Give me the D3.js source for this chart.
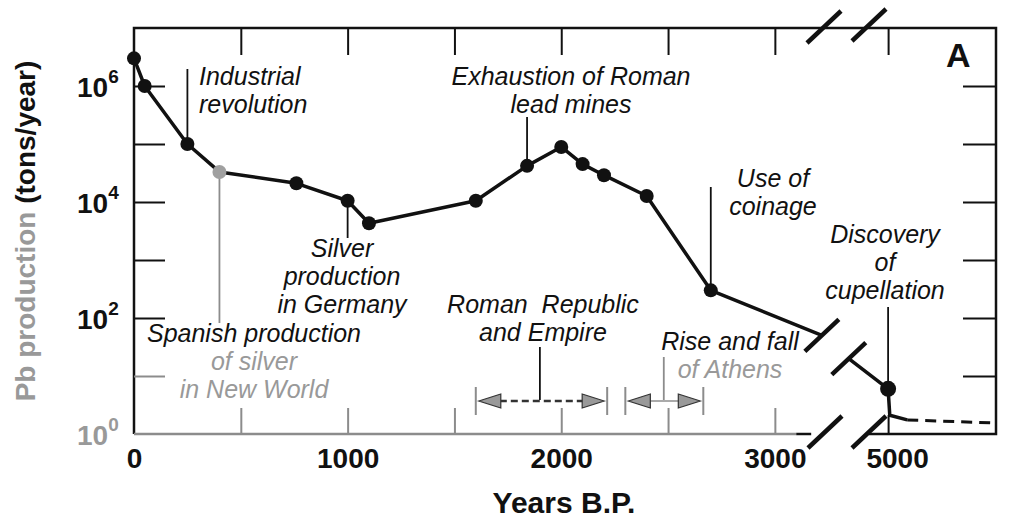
<!DOCTYPE html>
<html>
<head>
<meta charset="utf-8">
<script src="https://cdn.jsdelivr.net/npm/d3@7"></script>
<style>
    html, body { margin: 0; padding: 0; background: #fff; }
    svg { display: block; font-family: "Liberation Sans", Arial, Helvetica, sans-serif; }
</style>
</head>
<body>
<div id="chart"></div>
<script>
// Lead production, years before present vs tons/year
const years = [0, 50, 250, 400, 760, 1000, 1100, 1600, 1840, 2000, 2100, 2200, 2400, 2700];
const production = [3e6, 1e6, 1e5, 3.3e4, 2.1e4, 1.05e4, 4.3e3, 1.05e4, 4.2e4, 8.9e4, 4.5e4, 2.9e4, 1.27e4, 300];
const grayYears = [400];

// where the line runs into the axis break and comes out of it
const breakYears = [3220, 4650];
const breakValues = [50, 20];

// the oldest part, beyond the break
const tailYears = [5000, 5015, 5170];
const tailValues = [6, 2.1, 1.75];
const dashedYears = [5170, 5960];
const dashedValues = [1.75, 1.55];

const xLabelTicks = [0, 1000, 2000, 3000];
const xMinorTicks = [500, 1000, 1500, 2000, 2500, 3000];
const xRightTicks = [5000];
const yTicks = [10, 100, 1e3, 1e4, 1e5, 1e6];
const yLabelTicks = [1, 100, 1e4, 1e6];

const romanPeriod = [1600, 2215];
const athensPeriod = [2300, 2665];

const BLACK = "#111";
const GRAY = "#8c8c8c";
const TEXT_GRAY = "#999";

const width = 1024, height = 532;
const plotLeft = 134, plotRight = 996, plotTop = 28, plotBottom = 434;
const breakLeft = 824, breakRight = 869;

const xLeft = d3.scaleLinear().domain([0, 3230]).range([plotLeft, breakLeft]);
const xRight = d3.scaleLinear().domain([4830, 5960]).range([breakRight, plotRight]);
const y = d3.scaleLog().domain([1, 1e7]).range([plotBottom, plotTop]);

const svg = d3.select("#chart")
    .append("svg")
    .attr("width", width)
    .attr("height", height);

function tickAxis(axis, transform, color) {
    let g = svg.append("g").attr("transform", transform).call(axis);
    g.select(".domain").remove();
    g.selectAll(".tick line")
        .attr("stroke", color)
        .attr("stroke-width", 2);
    return g;
}

function labelAxis(g) {
    g.select(".domain").remove();
    g.attr("font-size", 28)
        .attr("font-weight", "bold")
        .attr("font-family", null)
        .attr("color", BLACK);
    return g;
}

// frame
let line = d3.line();
svg.append("path")
    .attr("d", line([[plotLeft, plotBottom], [plotLeft, plotTop], [plotRight, plotTop], [plotRight, plotBottom], [breakRight, plotBottom]]))
    .attr("fill", "none").attr("stroke", BLACK).attr("stroke-width", 2.5);
svg.append("path")
    .attr("d", line([[plotLeft, plotBottom], [xLeft(3100), plotBottom]]))
    .attr("stroke", GRAY).attr("stroke-width", 2.5);
svg.append("path")
    .attr("d", line([[xLeft(3100), plotBottom], [xLeft(3170), plotBottom]]))
    .attr("stroke", BLACK).attr("stroke-width", 2.5);

// inward ticks
tickAxis(d3.axisBottom(xLeft).tickValues(xMinorTicks).tickSize(-26).tickFormat(""), `translate(0,${plotBottom})`, GRAY);
tickAxis(d3.axisBottom(xRight).tickValues(xRightTicks).tickSize(-19).tickFormat(""), `translate(0,${plotBottom})`, BLACK);
tickAxis(d3.axisTop(xLeft).tickValues(xMinorTicks).tickSize(-27).tickFormat(""), `translate(0,${plotTop})`, BLACK);
tickAxis(d3.axisTop(xRight).tickValues(xRightTicks).tickSize(-27).tickFormat(""), `translate(0,${plotTop})`, BLACK);
tickAxis(d3.axisLeft(y).tickValues(yTicks).tickSize(-31).tickFormat(""), `translate(${plotLeft},0)`, BLACK)
    .selectAll(".tick line").attr("stroke", d => d === 10 ? GRAY : BLACK);
tickAxis(d3.axisRight(y).tickValues(yTicks).tickSize(-33).tickFormat(""), `translate(${plotRight},0)`, BLACK);

// x labels
labelAxis(svg.append("g").attr("transform", `translate(0,${plotBottom})`)
    .call(d3.axisBottom(xLeft).tickValues(xLabelTicks).tickSize(0).tickPadding(14).tickFormat(d3.format("d"))));
labelAxis(svg.append("g").attr("transform", `translate(0,${plotBottom})`)
    .call(d3.axisBottom(xRight).tickValues(xRightTicks).tickSize(0).tickPadding(14).tickFormat(d3.format("d"))))
    .selectAll("text").attr("dx", 9);

// y labels as powers of ten
let yLab = labelAxis(svg.append("g").attr("transform", `translate(${plotLeft},0)`)
    .call(d3.axisLeft(y).tickValues(yLabelTicks).tickSize(0).tickFormat("")));
yLab.selectAll(".tick text")
    .attr("x", -57)
    .attr("dy", 10)
    .attr("text-anchor", "start")
    .attr("fill", d => d === 1 ? TEXT_GRAY : BLACK)
    .each(function (d) {
        let t = d3.select(this);
        t.append("tspan").text("10");
        t.append("tspan").attr("font-size", 19).attr("dy", -14).text(Math.round(Math.log10(d)));
    });

// axis titles
svg.append("text")
    .attr("x", 564).attr("y", 513)
    .attr("text-anchor", "middle")
    .attr("font-size", 30).attr("font-weight", "bold").attr("fill", BLACK)
    .text("Years B.P.");

let yTitle = svg.append("text")
    .attr("transform", `translate(35,231) rotate(-90)`)
    .attr("text-anchor", "middle")
    .attr("font-size", 28).attr("font-weight", "bold");
yTitle.append("tspan").attr("fill", TEXT_GRAY).text("Pb production ");
yTitle.append("tspan").attr("fill", BLACK).text("(tons/year)");

svg.append("text")
    .attr("x", 946).attr("y", 67)
    .attr("font-size", 34).attr("font-weight", "bold").attr("fill", BLACK)
    .text("A");

// break marks
function slash(cx, cy) {
    svg.append("line")
        .attr("x1", cx - 17).attr("y1", cy + 16)
        .attr("x2", cx + 17).attr("y2", cy - 16)
        .attr("stroke", BLACK).attr("stroke-width", 4.5);
}
slash(breakLeft, plotTop - 1);
slash(breakRight, plotTop - 3);
slash(breakLeft + 1, plotBottom - 2);
slash(breakRight, plotBottom - 2);

// data line
let leftPoints = years.map((yr, i) => [xLeft(yr), y(production[i])]);
leftPoints.push([xLeft(breakYears[0]), y(breakValues[0])]);
let rightPoints = [[xRight(breakYears[1]), y(breakValues[1])]]
    .concat(tailYears.map((yr, i) => [xRight(yr), y(tailValues[i])]));
let dashedPoints = dashedYears.map((yr, i) => [xRight(yr), y(dashedValues[i])]);

svg.append("path").attr("d", line(leftPoints))
    .attr("fill", "none").attr("stroke", BLACK).attr("stroke-width", 3.5).attr("stroke-linejoin", "round");
svg.append("path").attr("d", line(rightPoints))
    .attr("fill", "none").attr("stroke", BLACK).attr("stroke-width", 3.5).attr("stroke-linejoin", "round");
svg.append("path").attr("d", line(dashedPoints))
    .attr("fill", "none").attr("stroke", BLACK).attr("stroke-width", 3).attr("stroke-dasharray", "11,7");

slash(xLeft(breakYears[0]), y(breakValues[0]));
slash(xRight(breakYears[1]), y(breakValues[1]));

// annotation leaders (drawn under the dots)
function leader(x, y1, y2, color) {
    svg.append("line")
        .attr("x1", x).attr("x2", x).attr("y1", y1).attr("y2", y2)
        .attr("stroke", color).attr("stroke-width", 1.8);
}
leader(xLeft(250), y(1e5), 69, BLACK);
leader(xLeft(1840), y(4.2e4), 117, BLACK);
leader(xLeft(1000), y(1.05e4), 238, BLACK);
leader(xLeft(400), y(3.3e4), 323, GRAY);
leader(xLeft(2700), y(300), 187, BLACK);
leader(xRight(5000), y(6), 307, BLACK);
leader(xLeft(1900), 347, 400, BLACK);
leader(xLeft(2480), 357, 400, GRAY);

svg.selectAll("circle.pt")
    .data(years)
    .enter()
    .append("circle")
    .attr("class", "pt")
    .attr("cx", d => xLeft(d))
    .attr("cy", (d, i) => y(production[i]))
    .attr("r", 7)
    .attr("fill", d => grayYears.includes(d) ? "#a0a0a0" : BLACK);
svg.append("circle")
    .attr("cx", xRight(tailYears[0]))
    .attr("cy", y(tailValues[0]))
    .attr("r", 8)
    .attr("fill", BLACK);

// periods
function periodArrow(period, dashed) {
    let x0 = xLeft(period[0]), x1 = xLeft(period[1]), ya = 401;
    let g = svg.append("g");
    g.append("line").attr("x1", x0 + 24).attr("x2", x1 - 24).attr("y1", ya).attr("y2", ya)
        .attr("stroke", dashed ? "#333" : "#aaa").attr("stroke-width", dashed ? 2.5 : 2)
        .attr("stroke-dasharray", dashed ? "7,4" : null);
    [x0, x1].forEach(x => {
        g.append("line").attr("x1", x).attr("x2", x).attr("y1", ya - 14).attr("y2", ya + 14)
            .attr("stroke", GRAY).attr("stroke-width", 2);
    });
    g.append("path")
        .attr("d", line([[x0 + 3, ya], [x0 + 25, ya - 7], [x0 + 25, ya + 7]]) + "Z")
        .attr("fill", "#999").attr("stroke", "#333").attr("stroke-width", 1.2);
    g.append("path")
        .attr("d", line([[x1 - 3, ya], [x1 - 25, ya - 7], [x1 - 25, ya + 7]]) + "Z")
        .attr("fill", "#999").attr("stroke", "#333").attr("stroke-width", 1.2);
}
periodArrow(romanPeriod, true);
periodArrow(athensPeriod, false);

// annotation texts
function note(x, baseline, lines, colors, anchor) {
    let t = svg.append("text")
        .attr("font-size", 25)
        .attr("font-style", "italic")
        .attr("text-anchor", anchor || "middle")
        .style("white-space", "pre");
    lines.forEach((s, i) => {
        t.append("tspan")
            .attr("x", x)
            .attr("y", baseline + i * 28)
            .attr("fill", colors ? colors[i] : BLACK)
            .text(s);
    });
}
note(199, 85, ["Industrial", "revolution"], null, "start");
note(571, 85, ["Exhaustion of Roman", "lead mines"]);
note(342, 257, ["Silver", "production", "in Germany"]);
note(254, 342, ["Spanish production", "of silver", "in New World"], [BLACK, TEXT_GRAY, TEXT_GRAY]);
note(543, 313, ["Roman  Republic", "and Empire"]);
note(730, 350, ["Rise and fall", "of Athens"], [BLACK, TEXT_GRAY]);
note(773, 187, ["Use of", "coinage"]);
note(885, 243, ["Discovery", "of", "cupellation"]);
</script>
</body>
</html>
